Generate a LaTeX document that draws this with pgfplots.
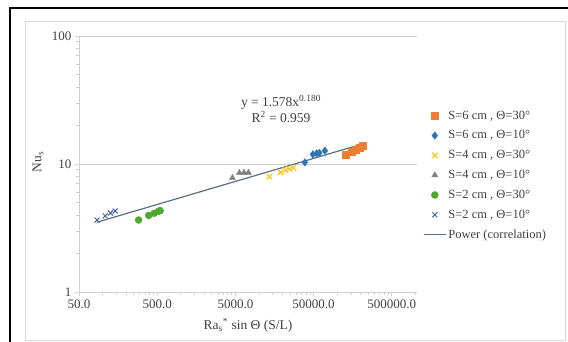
\documentclass[border=0pt]{standalone}
\usepackage{fontspec}
\setmainfont{Liberation Serif}
\usepackage{pgfplots}
\pgfplotsset{compat=1.18}
\definecolor{sorange}{HTML}{ED7D31}
\definecolor{sblue}{HTML}{2E75B6}
\definecolor{syellow}{HTML}{FFC000}
\definecolor{sgray}{HTML}{7F7F7F}
\definecolor{sgreen}{HTML}{4EA72E}
\definecolor{sdblue}{HTML}{4A5FB0}
\definecolor{gridgray}{HTML}{D0D0D0}
\definecolor{labelgray}{HTML}{404040}
\definecolor{linecol}{HTML}{5A6E84}
\begin{document}
\begin{tikzpicture}[x=1pt,y=1pt]
\path[use as bounding box] (0,0) rectangle (568,342);
\draw[gray!30, line width=0.8pt] (25,2) rectangle (565,321);
\draw[black, line width=2pt] (10,0) -- (10,334) -- (568,334);
\begin{axis}[
  at={(79pt,50pt)}, anchor=south west, scale only axis,
  width=338pt, height=256pt,
  xmode=log, ymode=log,
  xmin=50, xmax=1.05e6, ymin=1, ymax=100,
  axis x line*=bottom, axis y line*=left,
  axis line style={draw=gridgray, line width=0.8pt},
  xtick={50,500,5000,50000,500000},
  xticklabels={50.0,500.0,5000.0,50000.0,500000.0},
  ytick={1,10,100}, yticklabels={1,10,100},
  minor xtick={100,150,200,250,300,350,400,450,1000,1500,2000,2500,3000,3500,4000,4500,10000,15000,20000,25000,30000,35000,40000,45000,100000,150000,200000,250000,300000,350000,400000,450000,1000000},
  minor ytick={2,3,4,5,6,7,8,9,20,30,40,50,60,70,80,90},
  ymajorgrids, major grid style={draw=gridgray, line width=0.8pt},
  tick style={draw=gridgray, line width=0.8pt}, tick align=outside,
  major tick length=4pt, minor tick length=3pt,
  ticklabel style={font=\fontsize{13}{15}\selectfont, text=labelgray},
  legend cell align=left,
  legend style={at={(1.009,0.724)}, anchor=north west, draw=none, fill=none,
    font=\fontsize{12.5}{14}\selectfont, text=labelgray, row sep=6pt},
  legend image code/.code={\draw[mark repeat=2,mark phase=2,#1] plot coordinates {(0pt,0pt) (11pt,0pt) (22pt,0pt)};},
]
\addplot[only marks, mark=square*, mark size=3.5pt, color=sorange] coordinates {
 (129700,11.76) (155000,12.5) (172600,12.9) (196700,13.4) (214300,13.8)};
\addlegendentry{S=6 cm , Θ=30°}
\addplot[only marks, mark=diamond*, mark size=3.8pt, color=sblue] coordinates {
 (38650,10.3) (48950,11.9) (54600,12.1) (59350,12.2) (69800,12.7)};
\addlegendentry{S=6 cm , Θ=10°}
\addplot[only marks, mark=x, mark size=4pt, line width=1pt, color=syellow] coordinates {
 (13650,7.96) (18870,8.61) (21870,8.93) (24600,9.14) (27700,9.36)};
\addlegendentry{S=4 cm , Θ=30°}
\addplot[only marks, mark=triangle*, mark size=3.5pt, color=sgray] coordinates {
 (4580,7.78) (5625,8.51) (6425,8.56) (7340,8.56)};
\addlegendentry{S=4 cm , Θ=10°}
\addplot[only marks, mark=*, mark size=3.5pt, color=sgreen] coordinates {
 (289,3.65) (390,3.97) (458,4.12) (520,4.27) (546,4.32)};
\addlegendentry{S=2 cm , Θ=30°}
\addplot[only marks, mark=x, mark size=3.5pt, line width=1pt, color=sdblue] coordinates {
 (85,3.65) (108,3.93) (126,4.14) (145,4.29)};
\addlegendentry{S=2 cm , Θ=10°}
\addplot[no marks, color=linecol, line width=1.2pt] coordinates {
 (85,3.51) (215000,14.38)};
\addlegendentry{Power (correlation)}
\end{axis}
\node[text=labelgray, font=\fontsize{13.5}{15}\selectfont] at (281,240) {y = 1.578x\textsuperscript{0.180}};
\node[text=labelgray, font=\fontsize{13.5}{15}\selectfont] at (281,225) {R\textsuperscript{2} = 0.959};
\node[text=labelgray, font=\fontsize{13.5}{15}\selectfont] at (248,17) {Ra\textsubscript{s}\textsuperscript{*} sin Θ (S/L)};
\node[text=labelgray, font=\fontsize{13.5}{15}\selectfont, rotate=90] at (38,180) {Nu\textsubscript{s}};
\end{tikzpicture}
\end{document}
